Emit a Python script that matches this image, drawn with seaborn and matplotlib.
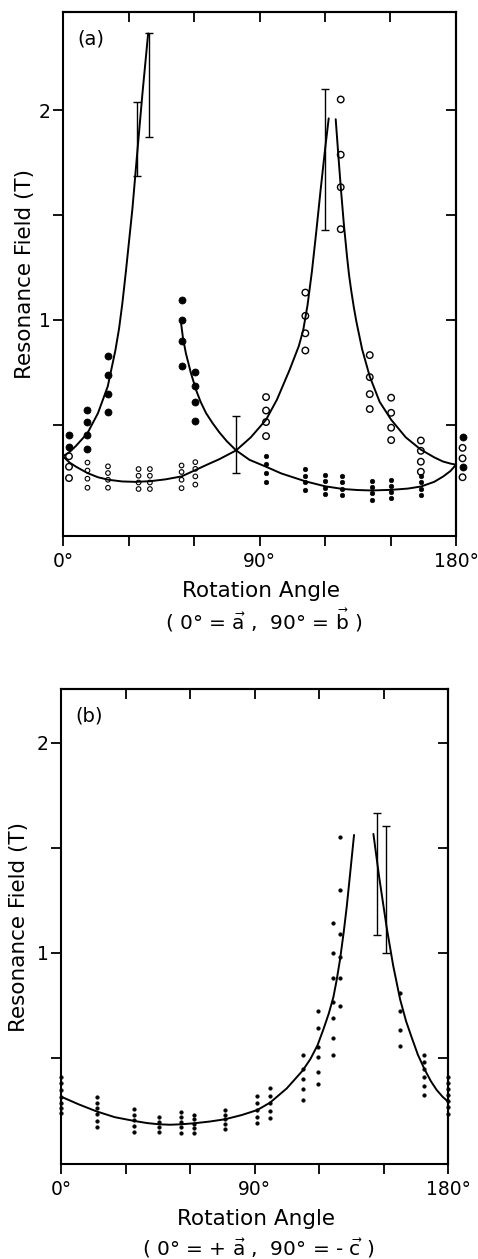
import matplotlib
matplotlib.use("Agg")
import matplotlib.pyplot as plt
import pandas as pd
import seaborn as sns

# ---------------- panel (a): rotation in the a-b plane ----------------
# measured resonance fields (T), grouped by rotation angle (deg)
a_filled_large = [(2.75, [0.452, 0.394]),
                  (11.2, [0.571, 0.511, 0.452, 0.386]),
                  (20.5, [0.829, 0.735, 0.648, 0.560]),
                  (54.3, [1.094, 0.997, 0.900, 0.781]),
                  (60.6, [0.752, 0.683, 0.610, 0.519]),
                  (183.0, [0.444, 0.300])]
a_open_large = [(2.75, [0.350, 0.300, 0.246]),
                (93.0, [0.632, 0.568, 0.513, 0.446]),
                (111.0, [1.130, 1.019, 0.936, 0.854]),
                (127.2, [2.050, 1.787, 1.632, 1.432]),
                (140.5, [0.832, 0.727, 0.646, 0.575]),
                (150.3, [0.629, 0.557, 0.486, 0.427]),
                (163.9, [0.425, 0.376, 0.324, 0.276]),
                (183.0, [0.390, 0.340, 0.250])]
a_open_small = [(11.2, [0.320, 0.282, 0.243, 0.200]),
                (20.6, [0.302, 0.270, 0.238, 0.200]),
                (34.6, [0.289, 0.257, 0.225, 0.194]),
                (39.8, [0.289, 0.257, 0.225, 0.194]),
                (54.3, [0.306, 0.275, 0.238, 0.198]),
                (60.6, [0.322, 0.290, 0.254, 0.215])]
a_filled_small = [(93.0, [0.352, 0.313, 0.270, 0.225]),
                  (111.0, [0.290, 0.257, 0.225, 0.190]),
                  (119.8, [0.262, 0.230, 0.198, 0.171]),
                  (128.0, [0.254, 0.225, 0.194, 0.163]),
                  (141.3, [0.230, 0.203, 0.175, 0.143]),
                  (150.4, [0.238, 0.210, 0.178, 0.149]),
                  (164.0, [0.254, 0.225, 0.194, 0.167])]

# calculated angular dependence, panel (a)
a_fit1_angle = [0, 3, 6, 11.2, 16, 20.5, 24, 25.7, 27.2, 28.8, 31.8, 33.7, 36.4, 39.0]
a_fit1_field = [0.35, 0.37, 0.40, 0.46, 0.555, 0.683, 0.855, 0.96, 1.08, 1.23, 1.53, 1.76, 2.08, 2.365]
a_fit2_angle = [54, 55, 56.3, 58.5, 60.9, 63, 65.5, 68.5, 71.6, 75, 79.3, 85.4, 93, 100,
                111.2, 120, 128.2, 135, 141.3, 150.4, 158, 164, 170, 174.2, 177.5, 180]
a_fit2_field = [0.99, 0.91, 0.84, 0.75, 0.667, 0.61, 0.556, 0.508, 0.464, 0.422, 0.378, 0.333, 0.30, 0.268,
                0.23, 0.207, 0.194, 0.189, 0.187, 0.19, 0.196, 0.206, 0.228, 0.254, 0.28, 0.31]
a_fit3_angle = [0, 3, 6, 11.2, 16, 20.8, 27, 33, 39.8, 47, 54.3, 60.6, 66, 71.6, 79.3, 86, 93, 98,
                103.8, 108, 110, 112, 114, 116, 118, 120, 121.7]
a_fit3_field = [0.35, 0.32, 0.30, 0.27, 0.25, 0.238, 0.23, 0.228, 0.231, 0.24, 0.254, 0.284, 0.31, 0.336,
                0.378, 0.44, 0.524, 0.62, 0.762, 0.875, 0.95, 1.07, 1.23, 1.42, 1.62, 1.81, 1.96]
a_fit4_angle = [124.9, 126, 127.2, 128.6, 130.1, 131, 132, 133.2, 134.4, 137, 140.5, 145, 150.3, 157,
                164, 170, 174, 177.5, 180]
a_fit4_field = [1.956, 1.80, 1.635, 1.46, 1.30, 1.215, 1.14, 1.06, 0.99, 0.86, 0.73, 0.61, 0.524, 0.44,
                0.381, 0.345, 0.325, 0.315, 0.31]

a_err_angle = [33.7, 39.2, 79.3, 120.1]
a_err_low = [1.686, 1.873, 0.270, 1.429]
a_err_high = [2.040, 2.365, 0.544, 2.098]

# ---------------- panel (b): rotation in the a-c plane ----------------
b_points = [(0.0, [0.408, 0.379, 0.348, 0.316, 0.287, 0.264, 0.237]),
            (16.7, [0.316, 0.287, 0.260, 0.232, 0.200, 0.173]),
            (34.1, [0.256, 0.229, 0.205, 0.178, 0.149]),
            (45.6, [0.221, 0.197, 0.173, 0.146]),
            (55.8, [0.241, 0.218, 0.194, 0.170, 0.144]),
            (62.0, [0.229, 0.208, 0.184, 0.165, 0.144]),
            (76.3, [0.252, 0.229, 0.208, 0.186, 0.162]),
            (91.3, [0.321, 0.287, 0.252, 0.221, 0.189]),
            (97.2, [0.356, 0.321, 0.284, 0.249, 0.213]),
            (112.4, [0.514, 0.448, 0.398, 0.351, 0.300]),
            (119.4, [0.725, 0.641, 0.554, 0.506, 0.435, 0.376]),
            (126.7, [1.141, 1.001, 0.879, 0.768, 0.689, 0.594, 0.514]),
            (129.8, [1.554, 1.300, 1.090, 0.980, 0.879, 0.748]),
            (157.7, [0.811, 0.725, 0.633, 0.559]),
            (169.0, [0.514, 0.482, 0.446, 0.411, 0.368, 0.324]),
            (180.0, [0.408, 0.379, 0.351, 0.324, 0.295, 0.265, 0.232])]

b_fit1_angle = [0, 8, 16.7, 25, 34.1, 40, 45.6, 50.7, 55.8, 62, 69, 76.3, 84, 91.3, 97.2, 105,
                112.4, 116, 119.3, 122, 124.5, 126.7, 128.2, 129.8, 131.5, 132.9, 134.6, 136.3]
b_fit1_field = [0.316, 0.28, 0.245, 0.218, 0.20, 0.19, 0.184, 0.182, 0.184, 0.189, 0.197, 0.208, 0.228,
                0.252, 0.287, 0.355, 0.44, 0.495, 0.56, 0.635, 0.71, 0.79, 0.87, 0.97, 1.10, 1.22,
                1.39, 1.562]
b_fit2_angle = [145.3, 148, 151.5, 154.5, 157.7, 160.5, 163.1, 166, 169, 172, 174.7, 177.5, 180]
b_fit2_field = [1.567, 1.36, 1.12, 0.94, 0.78, 0.675, 0.598, 0.515, 0.448, 0.39, 0.348, 0.315, 0.292]

b_err_angle = [147.1, 151.2]
b_err_low = [1.086, 0.999]
b_err_high = [1.665, 1.605]

angle_ticks = [0, 30, 60, 90, 120, 150, 180]
angle_labels = ["0°", "", "", "90°", "", "", "180°"]
field_ticks = [0.5, 1.0, 1.5, 2.0]
field_labels = ["", "1", "", "2"]


def to_frame(groups):
    rows = [(ang, f) for ang, fields in groups for f in fields]
    return pd.DataFrame(rows, columns=["angle", "field"])


sns.set_theme(style="ticks")
plt.rcParams["font.family"] = ["DejaVu Sans"]
plt.rcParams["mathtext.fontset"] = "dejavusans"
plt.rcParams["text.color"] = "black"
plt.rcParams["axes.labelcolor"] = "black"
plt.rcParams["xtick.color"] = "black"
plt.rcParams["ytick.color"] = "black"
plt.rcParams["axes.edgecolor"] = "black"

fig = plt.figure(figsize=(4.78, 12.59), dpi=100)
ax_a = fig.add_axes([63 / 478, 1 - 536 / 1259, 393 / 478, 524 / 1259])
ax_b = fig.add_axes([61 / 478, 1 - 1164 / 1259, 387 / 478, 475 / 1259])

LW_SPINE = 1.5
TICK_LEN = 7.5
TICK_W = 1.3


def scatter(ax, groups, size, hollow, lw):
    sns.scatterplot(data=to_frame(groups), x="angle", y="field", ax=ax, s=size,
                    color="black", edgecolor="black", linewidth=lw,
                    clip_on=False, legend=False, zorder=3)
    if hollow:
        ax.collections[-1].set_facecolor("none")


def curve(ax, xs, ys):
    sns.lineplot(x=xs, y=ys, ax=ax, sort=False, estimator=None,
                 color="black", linewidth=1.4, zorder=2)


def errbars(ax, xs, lo, hi):
    mid = [(l + h) / 2 for l, h in zip(lo, hi)]
    half = [(h - l) / 2 for l, h in zip(lo, hi)]
    ax.errorbar(xs, mid, yerr=half, fmt="none", ecolor="black",
                elinewidth=1.0, capsize=3, capthick=1.0, zorder=2)


def dress(ax, ylim, tag, sub, lab_x):
    ax.set_xlim(0, 180)
    ax.set_ylim(*ylim)
    ax.set_xticks(angle_ticks)
    ax.set_xticklabels(angle_labels)
    ax.set_yticks(field_ticks)
    ax.set_yticklabels(field_labels)
    ax.tick_params(axis="x", direction="out", length=TICK_LEN, width=TICK_W,
                   labelsize=13.5, pad=4, colors="black")
    ax.tick_params(axis="y", direction="out", length=TICK_LEN, width=TICK_W,
                   labelsize=13.5, pad=1.5, colors="black")
    for sp in ax.spines.values():
        sp.set_visible(True)
        sp.set_linewidth(LW_SPINE)
        sp.set_color("black")
    top = ax.secondary_xaxis("top")
    top.set_xticks(angle_ticks[1:-1])
    top.tick_params(direction="in", length=TICK_LEN, width=TICK_W,
                    labeltop=False, colors="black")
    top.spines["top"].set_linewidth(LW_SPINE)
    right = ax.secondary_yaxis("right")
    right.set_yticks(field_ticks)
    right.tick_params(direction="in", length=TICK_LEN, width=TICK_W,
                      labelright=False, colors="black")
    right.spines["right"].set_linewidth(LW_SPINE)

    ax.set_ylabel("Resonance Field (T)", fontsize=15.5, color="black")
    ax.yaxis.set_label_coords(lab_x, 0.5)
    ax.set_xlabel("")
    h = ax.get_position().height * 1259
    ax.text(0.036, 1 - 26.5 / h, tag,
            transform=ax.transAxes, fontsize=14, ha="left", va="center")
    ax.text(0.505, -55 / h, "Rotation Angle", transform=ax.transAxes,
            fontsize=15.5, ha="center", va="center")
    ax.text(0.51, -84 / h, sub, transform=ax.transAxes,
            fontsize=14.5, ha="center", va="center")


# panel (a)
curve(ax_a, a_fit1_angle, a_fit1_field)
curve(ax_a, a_fit2_angle, a_fit2_field)
curve(ax_a, a_fit3_angle, a_fit3_field)
curve(ax_a, a_fit4_angle, a_fit4_field)
errbars(ax_a, a_err_angle, a_err_low, a_err_high)
scatter(ax_a, a_filled_large, 26, False, 0.5)
scatter(ax_a, a_open_large, 22, True, 1.0)
scatter(ax_a, a_open_small, 11, True, 0.8)
scatter(ax_a, a_filled_small, 11, False, 0.4)
dress(ax_a, (-0.03, 2.467), "(a)",
      r"( 0° = $\vec{\mathrm{a}}$ ,  90° = $\vec{\mathrm{b}}$ )", -0.072)

# panel (b)
curve(ax_b, b_fit1_angle, b_fit1_field)
curve(ax_b, b_fit2_angle, b_fit2_field)
errbars(ax_b, b_err_angle, b_err_low, b_err_high)
scatter(ax_b, b_points, 7, False, 0.3)
dress(ax_b, (-0.005, 2.257), "(b)",
      r"( 0° = + $\vec{\mathrm{a}}$ ,  90° = - $\vec{\mathrm{c}}$ )", -0.082)

fig.savefig("out.png", dpi=100)
